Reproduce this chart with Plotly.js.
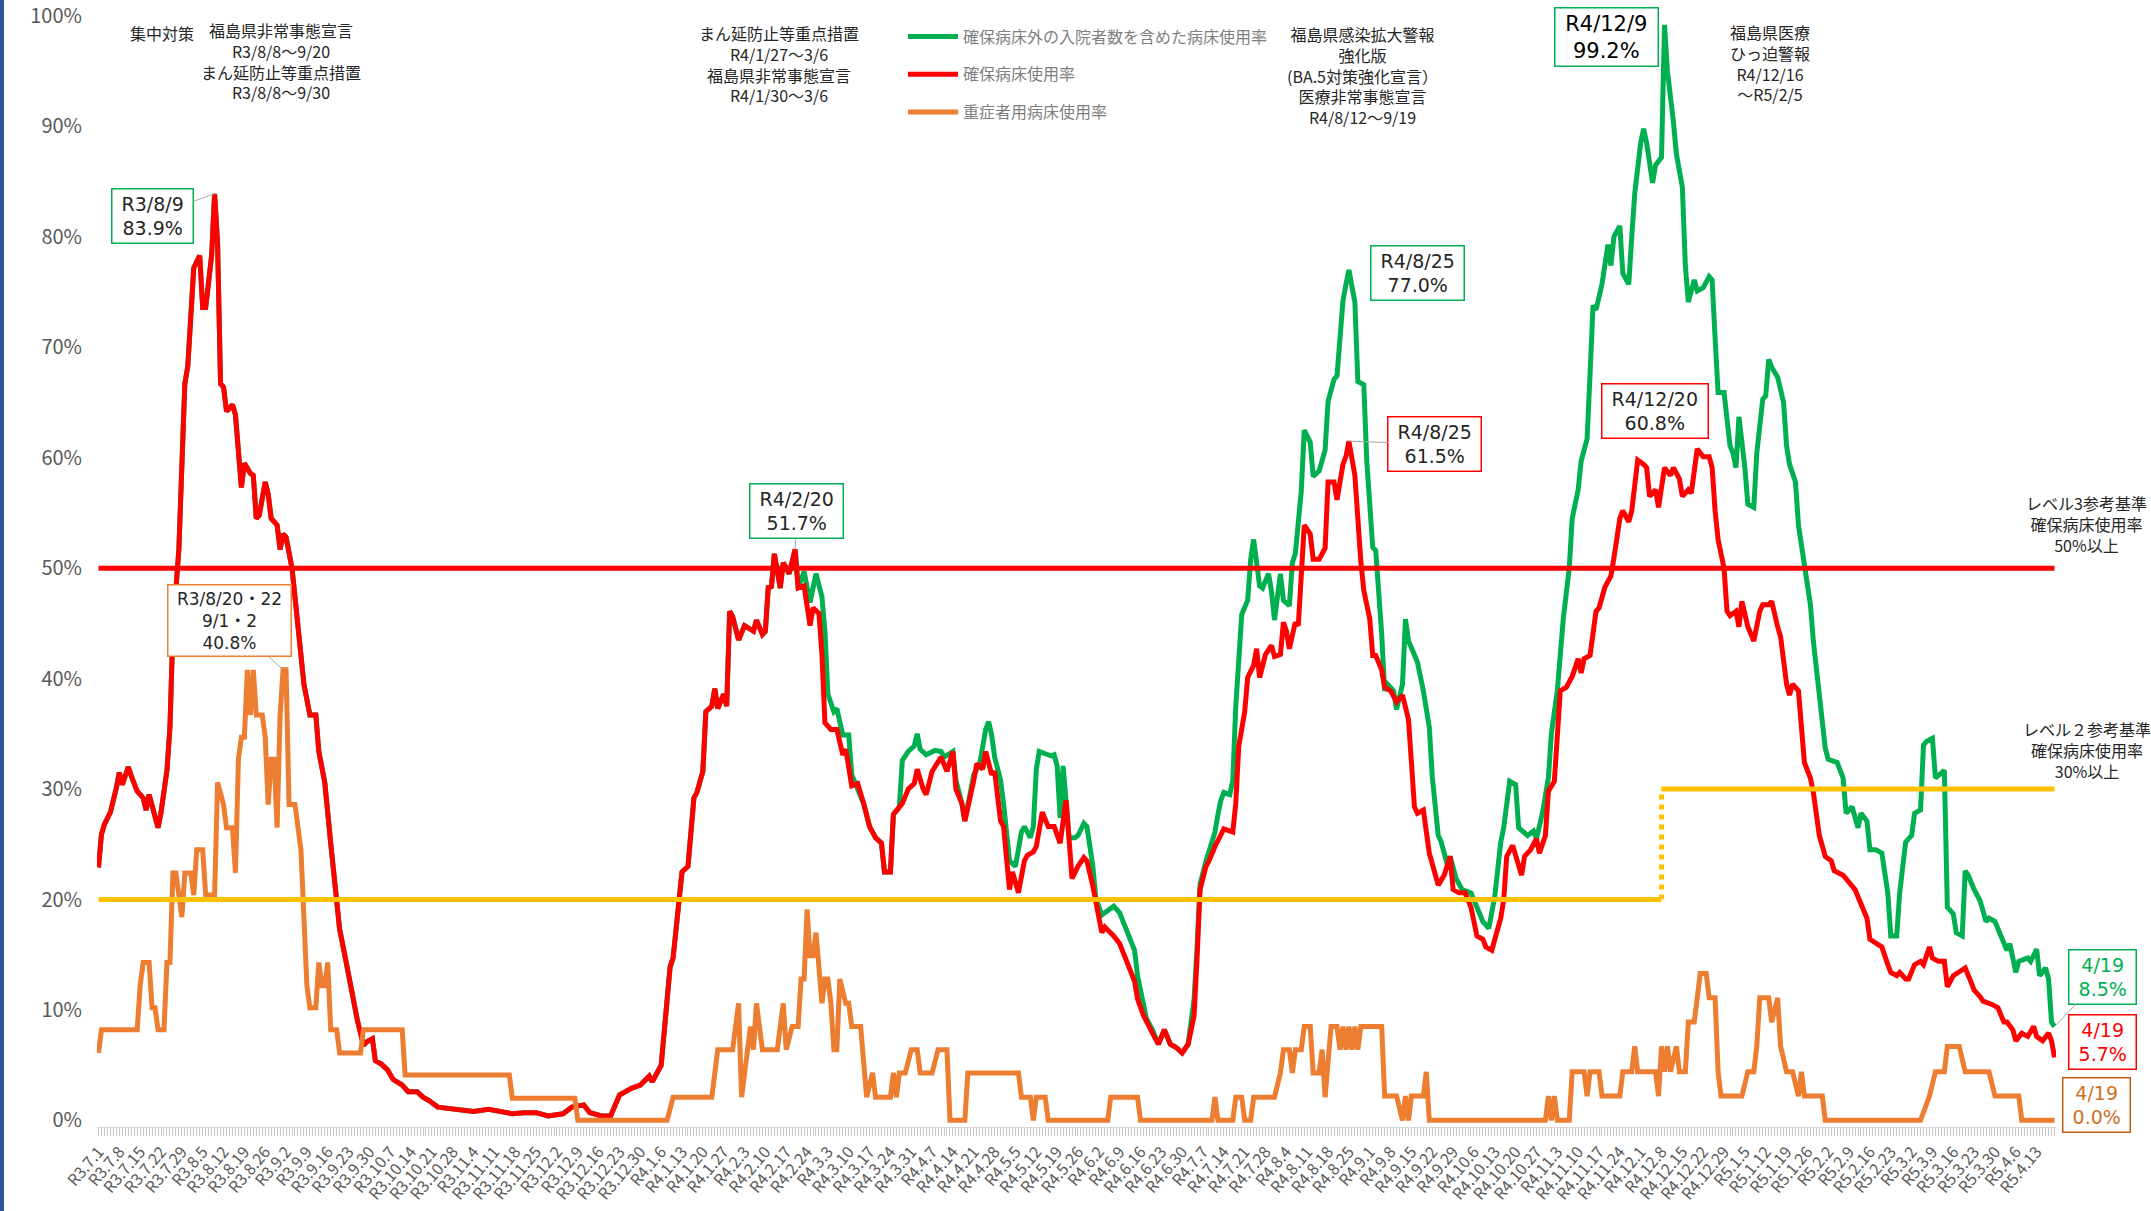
<!DOCTYPE html>
<html>
<head>
<meta charset="utf-8">
<script src="https://cdn.plot.ly/plotly-3.0.1.min.js"></script>
<style>
html,body{margin:0;padding:0;background:#fff;}
#chart{width:2151px;height:1211px;}
</style>
</head>
<body>
<div id="chart"></div>
<script>
// ---- Data: [day offset from R3/7/1 (2021-07-01), percent] ----
const seriesNames = ['確保病床外の入院者数を含めた病床使用率', '確保病床使用率', '重症者用病床使用率'];

const greenSeries = [
[0,22.9],[1,25.9],[2,26.8],[4,27.9],[6,30.1],[7,31.5],[8,30.4],[10,32.0],[11,31.2],[13,29.8],[15,29.2],[16,28.1],[17,29.5],[18,28.4],[20,26.5],[21,27.9],[23,31.7],[24,35.6],[25,44.5],[27,51.7],[28,61.1],[29,66.7],[30,68.3],[31,73.9],[32,77.2],[34,78.3],[35,73.6],[36,73.6],[38,78.3],[39,83.9],[40,79.4],[41,66.7],[42,66.4],[43,64.2],[45,64.8],[46,63.9],[47,60.0],[48,57.3],[49,59.5],[51,58.6],[52,58.4],[53,54.5],[54,54.8],[56,57.8],[57,56.7],[58,54.5],[60,53.9],[61,51.7],[62,53.1],[63,52.8],[65,50.0],[66,47.3],[68,42.3],[69,39.5],[71,36.7],[73,36.7],[74,33.4],[76,30.6],[78,25.1],[80,20.1],[81,17.3],[83,14.6],[85,11.8],[87,9.0],[89,6.8],[90,7.1],[92,7.4],[93,5.4],[95,5.1],[97,4.6],[99,3.7],[102,3.2],[104,2.6],[107,2.6],[109,2.1],[111,1.8],[114,1.2],[117,1.1],[121,1.0],[126,0.8],[131,1.0],[135,0.8],[139,0.6],[143,0.7],[147,0.7],[151,0.4],[156,0.6],[159,1.2],[163,1.4],[165,0.7],[169,0.4],[172,0.4],[175,2.3],[179,2.9],[182,3.2],[185,4.0],
[186,3.5],[189,5.0],[190,8.4],[192,13.9],[193,14.7],[195,20.4],[196,22.5],[198,23.0],[200,29.2],[201,29.7],[203,31.6],[204,37.0],[206,37.5],[207,39.1],[208,37.3],[210,38.6],[211,37.5],[212,46.1],[213,45.6],[215,43.5],[217,44.8],[220,44.3],[221,45.3],[223,44.0],[224,44.3],[225,48.4],[226,48.2],[227,51.3],[229,48.2],[230,50.5],[232,49.5],[234,51.7],[235,48.2],[237,49.7],[239,46.9],[241,49.5],[243,47.4],[244,44.3],[245,38.6],[247,37.0],[248,37.3],[250,34.9],[252,34.9],[253,31.3],[256,29.5],[257,28.7],[259,26.6],[261,25.6],[263,25.1],[264,22.5],[266,22.5],[267,27.7],[269,28.4],
[270,32.6],[272,33.4],[274,33.9],[275,35.0],[276,33.6],[278,33.1],[281,33.5],[283,33.4],[284,32.9],[287,33.4],[288,30.8],[290,28.7],[291,27.1],[294,31.3],[296,32.3],[298,35.4],[299,36.1],[300,34.9],[301,32.9],[303,30.8],[304,28.7],[306,23.5],[307,23.3],[308,23.0],[310,26.1],[311,26.6],[313,25.6],[314,26.6],[315,31.8],[316,33.4],[318,33.2],[320,33.0],[321,33.1],[322,32.1],[323,27.4],[324,32.1],[326,25.6],[328,25.6],[329,25.8],[331,26.9],[332,26.6],[334,23.0],[335,20.1],[337,18.6],[338,18.8],[341,19.4],[343,18.8],[345,17.5],[348,15.4],[349,13.1],[351,10.8],[352,9.2],[354,8.2],[356,6.9],[358,8.2],[360,6.9],[362,6.6],[364,6.1],[366,6.9],[368,11.0],[369,15.7],[370,21.4],[372,23.5],[373,24.3],[375,26.1],[376,27.7],[377,29.0],[378,29.7],[380,29.5],[381,30.8],[382,37.5],[384,45.8],[386,47.1],[387,50.8],[388,52.6],[390,48.4],[391,48.2],[393,49.5],[394,47.9],[395,45.3],[397,49.5],[398,47.1],[400,46.6],[401,50.5],[402,51.3],[404,57.0],[405,62.5],[407,61.4],[408,58.3],[410,58.8],[412,60.7],[413,65.1],[415,67.1],[416,67.4],[417,71.3],[418,74.2],[419,75.7],[420,77.0],
[422,74.1],[423,66.9],[425,66.6],[426,59.7],[428,51.9],[429,51.6],[431,44.1],[432,38.9],[433,39.5],[435,38.9],[436,37.2],[438,39.5],[439,45.4],[440,43.4],[441,42.8],[443,41.5],[445,38.9],[447,35.6],[448,31.1],[450,25.8],[451,25.2],[453,23.2],[454,23.9],[456,21.9],[458,20.9],[461,20.6],[463,19.3],[465,18.0],[467,17.4],[469,20.3],[471,25.2],[472,26.5],[474,30.7],[476,30.4],[477,26.5],[480,25.8],[482,26.2],[483,25.5],[485,27.8],[487,31.0],[488,35.0],[490,38.9],[492,45.4],[494,50.0],[495,54.5],[497,57.1],[498,59.7],[500,61.7],[501,67.6],[502,73.8],[503,73.4],[504,74.8],[505,75.7],[507,79.3],[508,77.4],[509,80.0],[511,81.0],[512,76.7],[514,75.7],[515,80.0],[516,83.9],[518,88.5],[519,89.8],[520,88.5],[522,84.9],[523,86.5],[525,87.2],[526,99.2],[527,95.0],[529,90.4],[530,87.5],[532,84.5],[533,77.4],[534,74.1],[536,76.1],[537,75.1],[539,75.4],[541,76.4],[542,76.1],[543,70.8],[544,65.9],[546,65.9],[548,61.1],[549,60.4],[550,59.1],[551,63.7],[553,59.1],[554,55.8],[556,55.5],[557,60.4],[559,65.3],[560,65.6],[561,68.9],[562,68.2],[564,67.3],[566,65.0],[567,61.1],[568,59.4],[570,57.8],[571,53.9],[573,50.0],[575,46.7],[576,43.4],[578,38.9],[580,33.7],[581,32.7],[584,32.4],[586,31.0],[587,27.8],[589,28.4],[591,26.5],[592,27.8],[594,27.1],[595,24.5],[597,24.5],[599,24.2],[601,20.6],[602,16.7],[604,16.7],[605,20.6],[607,25.2],[609,25.8],[610,27.8],[612,28.1],[613,34.0],[614,34.3],[616,34.6],[617,31.0],[619,31.4],[620,31.7],[621,19.3],[623,18.7],[624,17.0],[626,16.7],[627,22.6],[628,22.2],[630,20.9],[632,19.9],[634,18.0],[635,18.3],[637,18.0],[639,16.7],[641,15.4],[642,16.0],[644,13.4],[645,14.4],[648,14.7],[649,14.4],[651,15.5],[652,13.1],[654,13.8],[655,12.8],[656,8.9],[657,8.5]
];

const redSeries = [
[0,22.9],[1,25.9],[2,26.8],[4,27.9],[6,30.1],[7,31.5],[8,30.4],[10,32.0],[11,31.2],[13,29.8],[15,29.2],[16,28.1],[17,29.5],[18,28.4],[20,26.5],[21,27.9],[23,31.7],[24,35.6],[25,44.5],[27,51.7],[28,61.1],[29,66.7],[30,68.3],[31,73.9],[32,77.2],[34,78.3],[35,73.6],[36,73.6],[38,78.3],[39,83.9],[40,79.4],[41,66.7],[42,66.4],[43,64.2],[45,64.8],[46,63.9],[47,60.0],[48,57.3],[49,59.5],[51,58.6],[52,58.4],[53,54.5],[54,54.8],[56,57.8],[57,56.7],[58,54.5],[60,53.9],[61,51.7],[62,53.1],[63,52.8],[65,50.0],[66,47.3],[68,42.3],[69,39.5],[71,36.7],[73,36.7],[74,33.4],[76,30.6],[78,25.1],[80,20.1],[81,17.3],[83,14.6],[85,11.8],[87,9.0],[89,6.8],[90,7.1],[92,7.4],[93,5.4],[95,5.1],[97,4.6],[99,3.7],[102,3.2],[104,2.6],[107,2.6],[109,2.1],[111,1.8],[114,1.2],[117,1.1],[121,1.0],[126,0.8],[131,1.0],[135,0.8],[139,0.6],[143,0.7],[147,0.7],[151,0.4],[156,0.6],[159,1.2],[163,1.4],[165,0.7],[169,0.4],[172,0.4],[175,2.3],[179,2.9],[182,3.2],[185,4.0],
[186,3.5],[189,5.0],[190,8.4],[192,13.9],[193,14.7],[195,20.4],[196,22.5],[198,23.0],[200,29.2],[201,29.7],[203,31.6],[204,37.0],[206,37.5],[207,39.1],[208,37.3],[210,38.6],[211,37.5],[212,46.1],[213,45.6],[215,43.5],[217,44.8],[220,44.3],[221,45.3],[223,44.0],[224,44.3],[225,48.4],[226,48.2],[227,51.3],[229,48.2],[230,50.5],[232,49.5],[234,51.7],[235,48.2],[237,48.4],[239,44.8],[240,46.4],[242,45.9],[243,42.2],[244,36.0],[246,35.4],[248,35.4],[250,33.1],[251,33.6],[253,30.3],[255,30.5],[257,28.7],[259,26.6],[261,25.6],[263,25.1],[264,22.5],[266,22.5],[267,27.7],[269,28.4],[270,28.7],[272,30.0],[274,30.5],[275,31.8],[277,30.0],[278,29.5],[280,31.6],[283,32.9],[285,31.6],[287,33.4],[288,30.0],[290,28.7],[291,27.1],[294,30.8],[295,32.3],[297,31.8],[298,33.4],[300,31.3],[301,31.6],[303,27.1],[304,26.6],[306,20.9],[307,22.5],[309,20.6],[311,23.5],[312,24.0],[314,24.3],[315,24.8],[317,27.9],[319,26.6],[321,26.6],[323,25.1],[325,29.0],[327,21.9],[329,23.0],[331,23.8],[332,23.5],[334,21.2],[335,19.6],[337,17.0],[338,17.5],[341,16.7],[343,16.0],[345,14.7],[348,12.6],[349,11.0],[351,9.5],[354,7.9],[356,6.9],[358,8.2],[360,6.9],[362,6.6],[364,6.1],[366,6.9],[368,9.5],[369,14.7],[370,20.9],[372,23.0],[373,23.5],[375,24.8],[376,25.3],[378,26.4],[381,26.1],[382,28.7],[383,33.9],[385,37.0],[386,40.1],[388,41.2],[389,42.7],[390,40.1],[392,42.2],[394,43.0],[395,42.0],[397,42.2],[398,45.1],[399,44.3],[400,42.7],[402,45.1],[403,44.8],[404,50.0],[405,53.9],[407,53.1],[408,50.8],[410,50.8],[412,51.8],[413,57.8],[415,57.8],[416,56.2],[418,59.4],[419,60.1],[420,61.5],
[422,58.4],[423,53.9],[424,50.6],[425,48.0],[427,45.4],[428,42.1],[429,42.1],[431,40.8],[432,39.2],[434,38.9],[436,37.9],[438,38.5],[440,36.3],[441,32.4],[442,28.4],[443,27.8],[445,28.1],[447,24.2],[448,23.2],[450,21.3],[452,22.2],[454,23.9],[455,20.9],[457,20.6],[459,20.6],[461,19.3],[463,16.7],[465,16.4],[466,15.7],[468,15.4],[469,16.4],[471,18.3],[472,20.0],[473,23.9],[475,24.9],[476,23.9],[478,22.2],[479,23.9],[481,24.5],[483,25.5],[484,24.2],[486,25.8],[487,29.8],[489,30.7],[490,35.6],[491,38.9],[493,39.2],[495,40.2],[497,41.8],[498,40.5],[499,41.8],[501,42.1],[503,46.1],[504,46.4],[506,48.3],[508,49.3],[509,50.9],[511,54.5],[512,55.2],[514,54.2],[515,55.2],[517,59.8],[519,59.4],[520,59.1],[521,56.5],[523,57.1],[524,55.5],[526,59.1],[528,58.4],[529,59.1],[531,58.1],[532,56.5],[534,57.1],[535,56.8],[537,60.8],[539,60.1],[541,60.1],[542,59.1],[543,55.2],[544,52.6],[546,50.0],[547,46.1],[548,45.7],[550,46.1],[551,44.7],[552,47.0],[554,44.7],[556,43.4],[558,46.1],[559,46.7],[561,46.7],[562,47.0],[564,44.7],[565,43.8],[567,39.5],[568,38.5],[569,39.5],[571,38.9],[572,35.6],[573,32.4],[575,31.0],[576,29.7],[578,25.8],[580,23.9],[582,23.5],[583,22.6],[586,22.2],[587,21.9],[589,21.3],[590,20.9],[592,19.6],[594,18.3],[595,16.4],[597,16.0],[599,15.7],[601,14.1],[602,13.4],[604,13.1],[605,13.4],[607,12.8],[608,12.8],[610,14.1],[612,14.4],[613,14.1],[615,15.7],[616,14.7],[618,14.4],[620,14.4],[621,12.1],[623,13.1],[625,13.4],[627,13.8],[629,12.5],[630,11.8],[632,11.2],[633,10.8],[636,10.5],[638,10.2],[640,8.9],[641,8.9],[643,8.2],[644,7.2],[646,7.9],[648,7.6],[650,8.5],[651,7.6],[653,7.2],[655,7.9],[656,7.2],[657,5.7]
];

const orangeSeries = [
[0,6.1],[1,8.2],[13,8.2],[14,12.2],[15,14.3],[17,14.3],[18,10.2],[19,10.2],[20,8.2],[22,8.2],[23,14.3],[24,14.3],[25,22.4],[26,22.4],[28,18.4],[29,22.4],[31,22.4],[32,20.4],[33,24.5],[35,24.5],[36,20.4],[39,20.4],[40,30.6],[42,28.6],[43,26.5],[45,26.5],[46,22.4],[47,32.7],[48,34.7],[49,34.7],[50,40.8],[51,36.7],[52,40.8],[53,36.7],[55,36.7],[56,34.7],[57,28.6],[58,32.7],[59,32.7],[60,26.5],[61,36.7],[62,40.8],[63,40.8],[64,28.6],[66,28.6],[68,24.5],[69,18.4],[70,12.2],[71,10.2],[73,10.2],[74,14.3],[75,12.2],[76,12.2],[77,14.3],[78,8.2],[80,8.2],[81,6.1],[88,6.1],[89,8.2],[102,8.2],[103,4.1],[138,4.1],[139,2.0],[160,2.0],[161,0],
[191,0],[193,2.1],[206,2.1],[208,6.4],[213,6.4],[215,10.6],[216,2.1],[219,8.5],[220,6.4],[221,10.6],[223,6.4],[228,6.4],[230,10.6],[231,6.4],[233,8.5],[235,8.5],[236,12.8],[237,12.8],[238,19.1],[239,14.9],[240,14.9],[241,17.0],[243,10.6],[244,12.8],[245,12.8],[246,10.6],[247,6.4],[248,6.4],[249,12.8],[251,10.6],[252,10.6],[253,8.5],[256,8.5],[258,2.1],[260,4.3],[261,2.1],[266,2.1],[267,4.3],[268,2.1],[269,4.3],[271,4.3],[273,6.4],[275,6.4],[276,4.3],[280,4.3],[282,6.4],[285,6.4],[286,0],[291,0],[292,4.3],[309,4.3],[310,2.1],[313,2.1],[314,0],[315,2.1],[318,2.1],[319,0],[339,0],[340,2.1],[349,2.1],[350,0],[374,0],[375,2.1],[376,0],[381,0],[382,2.1],[384,2.1],[385,0],[387,0],[388,2.1],[395,2.1],[397,4.3],[398,6.4],[400,6.4],[401,4.3],[402,6.4],[404,6.4],[405,8.5],[407,8.5],[408,4.3],[410,4.3],[411,6.4],[412,2.1],[414,8.5],[416,8.5],[417,6.4],[418,8.5],[419,6.4],[420,8.5],[421,6.4],[422,8.5],[423,6.4],[424,8.5],[431,8.5],
[432,2.2],[436,2.2],[438,0],[439,2.2],[440,0],[441,2.2],[445,2.2],[446,4.4],[447,0],[486,0],[487,2.2],[488,0],[489,2.2],[490,0],[494,0],[495,4.4],[499,4.4],[500,2.2],[501,4.4],[504,4.4],[505,2.2],[511,2.2],[512,4.4],[515,4.4],[516,6.7],[517,4.4],[523,4.4],[524,2.2],[525,6.7],[526,4.4],[527,6.7],[528,4.4],[530,6.7],[531,4.4],[533,4.4],[534,8.9],[536,8.9],[538,13.3],[540,13.3],[541,11.1],[543,11.1],[544,4.4],[545,2.2],[552,2.2],[554,4.4],[556,4.4],[557,6.7],[558,11.1],[561,11.1],[562,8.9],[564,11.1],[565,6.7],[567,4.4],[569,4.4],[571,2.2],[572,4.4],[573,2.2],[579,2.2],[580,0],[612,0],[615,2.2],[617,4.4],[620,4.4],[621,6.7],[625,6.7],[627,4.4],[635,4.4],[637,2.2],[645,2.2],[646,0],[657,0]
];

// Reference levels
const level3Value = 50;            // レベル3 確保病床使用率 50%
const level2Values = [20, 30];     // レベル2 before / after change
const levelStartDay = 0, levelChangeDay = 525, levelEndDay = 657;

// Weekly tick labels
const tickLabels = [
'R3.7.1','R3.7.8','R3.7.15','R3.7.22','R3.7.29','R3.8.5','R3.8.12','R3.8.19','R3.8.26','R3.9.2','R3.9.9','R3.9.16','R3.9.23','R3.9.30','R3.10.7','R3.10.14','R3.10.21','R3.10.28','R3.11.4','R3.11.11','R3.11.18','R3.11.25','R3.12.2','R3.12.9','R3.12.16','R3.12.23','R3.12.30',
'R4.1.6','R4.1.13','R4.1.20','R4.1.27','R4.2.3','R4.2.10','R4.2.17','R4.2.24','R4.3.3','R4.3.10','R4.3.17','R4.3.24','R4.3.31','R4.4.7','R4.4.14','R4.4.21','R4.4.28','R4.5.5','R4.5.12','R4.5.19','R4.5.26','R4.6.2','R4.6.9','R4.6.16','R4.6.23','R4.6.30','R4.7.7','R4.7.14','R4.7.21','R4.7.28','R4.8.4','R4.8.11','R4.8.18','R4.8.25','R4.9.1','R4.9.8','R4.9.15','R4.9.22','R4.9.29','R4.10.6','R4.10.13','R4.10.20','R4.10.27','R4.11.3','R4.11.10','R4.11.17','R4.11.24','R4.12.1','R4.12.8','R4.12.15','R4.12.22','R4.12.29',
'R5.1.5','R5.1.12','R5.1.19','R5.1.26','R5.2.2','R5.2.9','R5.2.16','R5.2.23','R5.3.2','R5.3.9','R5.3.16','R5.3.23','R5.3.30','R5.4.6','R5.4.13'
];

// ---- helpers ----
const BASE = Date.UTC(2021, 6, 1);
function dayToDate(d){ return new Date(BASE + d*86400000).toISOString().slice(0,10); }
function labelToDate(s){
  const m = s.match(/^R(\d+)\.(\d+)\.(\d+)$/);
  const y = 2018 + (+m[1]);
  return y + '-' + String(m[2]).padStart(2,'0') + '-' + String(m[3]).padStart(2,'0');
}

const W = 2151, H = 1211;
const M = {l:97, r:95, t:16, b:84};
const PW = W - M.l - M.r, PH = H - M.t - M.b;
function px(x){ return (x - M.l)/PW; }
function py(y){ return (H - M.b - y)/PH; }

const FONT = '"Noto Sans CJK JP", "Noto Sans", sans-serif';
const BOXFONT = '"DejaVu Sans", "Noto Sans CJK JP", sans-serif';
const GREEN = '#00B050', RED = '#FF0000', ORANGE = '#ED7D31', YELLOW = '#FFC000';

function mk(series, name, color, group){
  return {
    x: series.map(p => dayToDate(p[0])),
    y: series.map(p => p[1]),
    type: 'scatter', mode: 'lines', name: name, legendgroup: group,
    line: {color: color, width: 5},
    hoverinfo: 'skip'
  };
}

const traces = [
  mk(greenSeries, seriesNames[0], GREEN, 'g'),
  mk(redSeries, seriesNames[1], RED, 'r'),
  mk(orangeSeries, seriesNames[2], ORANGE, 'o'),
  {x:[dayToDate(levelStartDay), dayToDate(levelEndDay)], y:[level3Value, level3Value], mode:'lines', showlegend:false, hoverinfo:'skip', line:{color:RED, width:5}},
  {x:[dayToDate(levelStartDay), dayToDate(levelChangeDay)], y:[level2Values[0], level2Values[0]], mode:'lines', showlegend:false, hoverinfo:'skip', line:{color:YELLOW, width:5}},
  {x:[dayToDate(levelChangeDay), dayToDate(levelChangeDay)], y:[level2Values[0], level2Values[1]], mode:'lines', showlegend:false, hoverinfo:'skip', line:{color:YELLOW, width:5, dash:'dot'}},
  {x:[dayToDate(levelChangeDay), dayToDate(levelEndDay)], y:[level2Values[1], level2Values[1]], mode:'lines', showlegend:false, hoverinfo:'skip', line:{color:YELLOW, width:5}}
];

function pad(t){ return t.split('<br>').map(s => '\u00a0' + s + '\u00a0').join('<br>'); }
function box(day, val, text, ax, ay, border, opts){
  opts = opts || {};
  return {
    x: dayToDate(day), y: val, xref:'x', yref:'y', text: pad(text),
    showarrow: true, arrowhead: 0, arrowwidth: 1, arrowcolor: opts.arrowcolor || '#a6a6a6',
    ax: ax, ay: ay, standoff: 0,
    font: {family: BOXFONT, size: opts.size || 19, color: opts.color || '#262626'},
    bordercolor: border, borderwidth: 1.5, borderpad: 3, bgcolor: '#ffffff', align: 'center'
  };
}
function note(x, yTop, text, size, color){
  return {x: px(x), y: py(yTop), xref:'paper', yref:'paper', xanchor:'center', yanchor:'top',
    text: text, showarrow:false, align:'center', font:{family:FONT, size:size||16, color:color||'#262626'}};
}

const annotations = [
  box(39, 83.9, 'R3/8/9<br>83.9%', -62, 22, GREEN),
  box(62, 40.8, 'R3/8/20・22<br>9/1・2<br>40.8%', -54, -49, ORANGE, {size:17}),
  box(234, 51.7, 'R4/2/20<br>51.7%', 1, -38, GREEN),
  box(420, 77.0, 'R4/8/25<br>77.0%', 69, 3, GREEN, {arrowcolor:'rgba(0,0,0,0)'}),
  box(420, 61.5, 'R4/8/25<br>61.5%', 86, 3, RED),
  box(526, 99.2, 'R4/12/9<br>99.2%', -58, 12, GREEN, {size:21, color:'#000000', arrowcolor:'rgba(0,0,0,0)'}),
  box(537, 60.8, 'R4/12/20<br>60.8%', -42, -38, RED, {arrowcolor:'rgba(0,0,0,0)'}),
  box(657, 8.5, '4/19<br>8.5%', 48, -50, GREEN, {color:GREEN}),
  box(657, 5.7, '4/19<br>5.7%', 48, -15, RED, {color:RED, arrowcolor:'rgba(0,0,0,0)'}),
  box(657, 0, '4/19<br>0.0%', 42, -15, '#C55A11', {color:'#D0701F', arrowcolor:'rgba(0,0,0,0)'}),
  note(162, 19, '集中対策'),
  note(281, 16, '福島県非常事態宣言<br>R3/8/8〜9/20<br>まん延防止等重点措置<br>R3/8/8〜9/30'),
  note(779, 19, 'まん延防止等重点措置<br>R4/1/27〜3/6<br>福島県非常事態宣言<br>R4/1/30〜3/6'),
  note(1362, 20, '福島県感染拡大警報<br>強化版<br>(BA.5対策強化宣言）<br>医療非常事態宣言<br>R4/8/12〜9/19'),
  note(1770, 18, '福島県医療<br>ひっ迫警報<br>R4/12/16<br>〜R5/2/5'),
  note(2086, 489, 'レベル3参考基準<br>確保病床使用率<br>50%以上'),
  note(2087, 715, 'レベル２参考基準<br>確保病床使用率<br>30%以上')
];

const shapes = [
  {type:'line', xref:'paper', yref:'paper', x0:px(2), x1:px(2), y0:py(0), y1:py(H), line:{color:'#2F5597', width:4}}
];

const layout = {
  width: W, height: H,
  margin: M,
  paper_bgcolor: '#ffffff', plot_bgcolor: '#ffffff',
  font: {family: FONT, color: '#595959'},
  showlegend: true,
  legend: {
    x: px(903), y: py(19.5), xanchor:'left', yanchor:'top',
    font: {family: FONT, size: 16, color: '#7f7f7f'},
    tracegroupgap: 14, bgcolor: 'rgba(0,0,0,0)', itemwidth: 50
  },
  xaxis: {
    type: 'date',
    range: [dayToDate(-1) + ' 12:00', dayToDate(657) + ' 12:00'],
    tickmode: 'array',
    tickvals: tickLabels.map(labelToDate),
    ticktext: tickLabels,
    tickangle: -50,
    tickfont: {family: FONT, size: 16, color: '#595959'},
    ticks: 'outside', ticklen: 8, tickcolor: '#c8c8c8', tickwidth: 1,
    minor: {tickmode:'linear', tick0: '2021-07-01', dtick: 86400000, ticks:'outside', ticklen: 8, tickcolor:'#c8c8c8', tickwidth: 1},
    showline: true, linecolor: '#d9d9d9', linewidth: 1,
    showgrid: false, zeroline: false, fixedrange: true
  },
  yaxis: {
    range: [-0.6, 100],
    tickmode: 'array',
    tickvals: [0,10,20,30,40,50,60,70,80,90,100],
    ticktext: ['0%','10%','20%','30%','40%','50%','60%','70%','80%','90%','100%'],
    tickfont: {family: FONT, size: 20, color: '#595959'},
    ticklabelstandoff: 14,
    showgrid: false, zeroline: false, showline: false, ticks: '', fixedrange: true
  },
  annotations: annotations,
  shapes: shapes
};

Plotly.newPlot('chart', traces, layout, {staticPlot: true, displayModeBar: false});
</script>
</body>
</html>
